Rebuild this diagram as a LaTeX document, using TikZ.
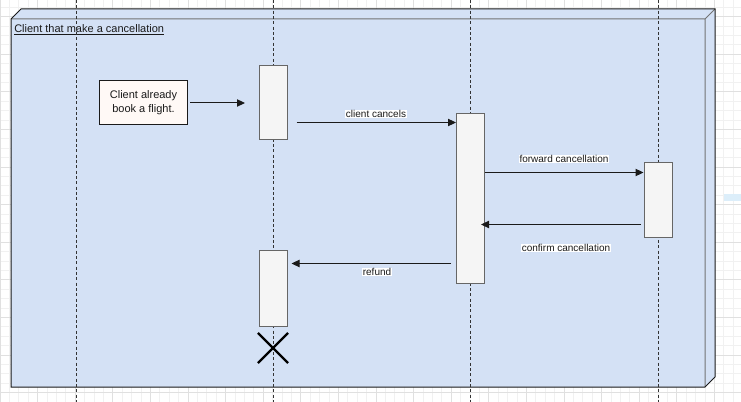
\documentclass[tikz,border=0pt]{standalone}
\usepackage{fontspec}
\setmainfont{Liberation Sans}
\usetikzlibrary{arrows.meta,calc,shapes.misc}
\definecolor{boxblue}{HTML}{D4E1F5}
\definecolor{actfill}{HTML}{F5F5F5}
\definecolor{actborder}{HTML}{666666}
\definecolor{notefill}{HTML}{FFF9F6}
\definecolor{gridminor}{HTML}{F1F1F1}
\definecolor{gridmajor}{HTML}{E0E0E0}
\definecolor{selblue}{HTML}{DCEEFA}
\definecolor{inkc}{HTML}{1A1A1A}
\begin{document}
\begin{tikzpicture}[x=0.75pt,y=-0.75pt,
  act/.style={draw=actborder, fill=actfill, line width=0.75pt, minimum width=21pt, inner sep=0pt},
  msg/.style={draw=inkc, line width=0.75pt, -{Triangle[length=6pt,width=5.5pt]}},
  lbl/.style={fill=white, inner sep=0.6pt, font=\fontsize{7.5pt}{9pt}\selectfont, text=inkc},
  life/.style={draw=black!80, line width=0.75pt, dash pattern=on 2.25pt off 1.75pt},
  notebox/.style={draw=inkc, fill=notefill, line width=0.75pt, minimum width=66pt, minimum height=33pt, align=center, inner sep=0pt, font=\fontsize{8.25pt}{10.5pt}\selectfont, text=inkc}]
\useasboundingbox (0,0) rectangle (741,402);
\fill[white] (0,0) rectangle (741,402);
% grid
\foreach \i in {0,...,79} {\draw[gridminor, line width=0.75pt] (\i*9.4,0) -- (\i*9.4,402);}
\foreach \j in {-1,...,41} {\draw[gridminor, line width=0.75pt] (0,16.7+\j*9.4) -- (741,16.7+\j*9.4);}
\foreach \i in {0,...,19} {\draw[gridmajor, line width=0.75pt] (\i*37.6,0) -- (\i*37.6,402);}
\foreach \j in {0,...,10} {\draw[gridmajor, line width=0.75pt] (0,16.7+\j*37.6) -- (741,16.7+\j*37.6);}
\fill[selblue] (724,194) rectangle (741,201);
% container (cube)
\fill[boxblue] (11,19) -- (21,9) -- (715,9) -- (715,377) -- (705,387) -- (11,387) -- cycle;
\draw[black!55, line width=0.75pt] (11,19) -- (705,19) -- (705,387) (705,19) -- (715,9);
\draw[inkc, line width=0.75pt] (11,19) -- (21,9) -- (715,9) -- (715,377) -- (705,387) -- (11,387) -- cycle;
\node[anchor=west, inner sep=0pt, font=\fontsize{8.25pt}{10pt}\selectfont, text=inkc] (title) at (14,30) {\underline{Client that make a cancellation}};
% lifelines
\draw[life] (76,0) -- (76,402);
\draw[life] (273,0) -- (273,402);
\draw[life] (470.5,0) -- (470.5,402);
\draw[life] (658,0) -- (658,402);
% activations
\node[act, minimum height=55.5pt] (a1) at (273,103) {};
\node[act, minimum height=126.75pt] (a2) at (470.5,198.5) {};
\node[act, minimum height=56.25pt] (a3) at (658,200.5) {};
\node[act, minimum height=56.25pt] (a4) at (273,288.5) {};
\node[notebox] (note) at (143.5,103) {Client already\\book a flight.};
\node[draw=black, cross out, line width=1.6pt, minimum size=21pt, inner sep=0pt] (xend) at (273,348) {};
% messages
\coordinate (n1) at (245,103);
\draw[msg] ([xshift=1.5pt]note.east) -- (n1);
\draw[msg] ($(a1.east)+(9,19.5)$) coordinate (m1) -- (m1 -| a2.west);
\node[lbl] (l1) at (376,114) {client cancels};
\draw[msg] ($(a2.east)+(0,-26)$) coordinate (m2) -- (m2 -| a3.west);
\node[lbl] (l2) at (564,159) {forward cancellation};
\draw[msg] ($(a3.west)+(-3,24)$) coordinate (m3) -- ($(m3 -| a2.east)+(-4,0)$);
\node[lbl] (l3) at (566,248) {confirm cancellation};
\draw[msg] ($(a2.west)+(-5,65)$) coordinate (m4) -- ($(m4 -| a4.east)+(4,0)$);
\node[lbl] (l4) at (377,272) {refund};
\end{tikzpicture}
\end{document}
